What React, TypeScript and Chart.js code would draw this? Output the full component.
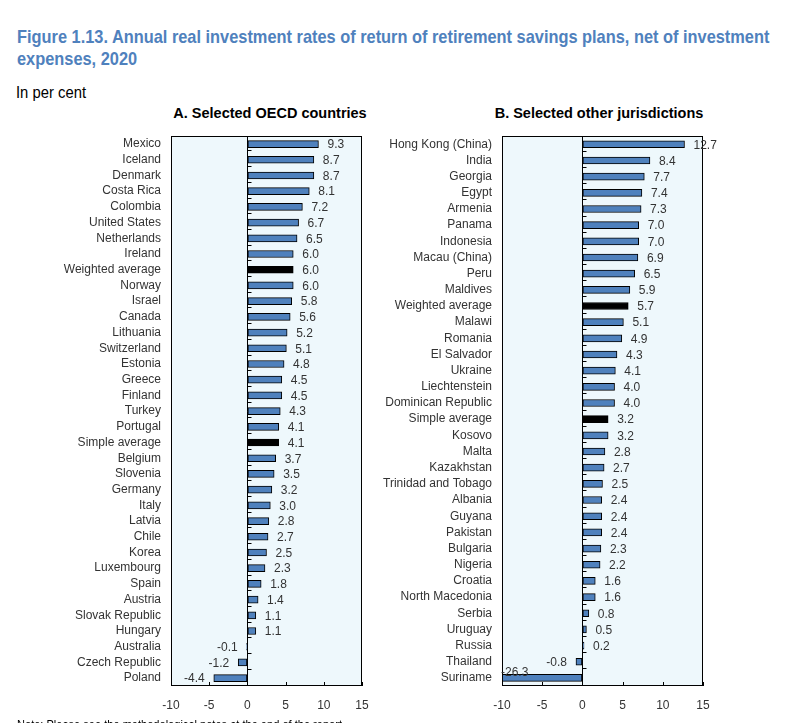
import React, { useEffect, useRef } from "react";
import { Chart, registerables } from "chart.js";

Chart.register(...registerables);

const categoriesA = [
  "Mexico", "Iceland", "Denmark", "Costa Rica", "Colombia", "United States", "Netherlands", "Ireland",
  "Weighted average", "Norway", "Israel", "Canada", "Lithuania", "Switzerland", "Estonia", "Greece",
  "Finland", "Turkey", "Portugal", "Simple average", "Belgium", "Slovenia", "Germany", "Italy", "Latvia",
  "Chile", "Korea", "Luxembourg", "Spain", "Austria", "Slovak Republic", "Hungary", "Australia",
  "Czech Republic", "Poland",
];
const valuesA = [
  9.3, 8.7, 8.7, 8.1, 7.2, 6.7, 6.5, 6.0, 6.0, 6.0, 5.8, 5.6, 5.2, 5.1, 4.8, 4.5, 4.5, 4.3, 4.1, 4.1,
  3.7, 3.5, 3.2, 3.0, 2.8, 2.7, 2.5, 2.3, 1.8, 1.4, 1.1, 1.1, -0.1, -1.2, -4.4,
];

const categoriesB = [
  "Hong Kong (China)", "India", "Georgia", "Egypt", "Armenia", "Panama", "Indonesia", "Macau (China)",
  "Peru", "Maldives", "Weighted average", "Malawi", "Romania", "El Salvador", "Ukraine", "Liechtenstein",
  "Dominican Republic", "Simple average", "Kosovo", "Malta", "Kazakhstan", "Trinidad and Tobago",
  "Albania", "Guyana", "Pakistan", "Bulgaria", "Nigeria", "Croatia", "North Macedonia", "Serbia",
  "Uruguay", "Russia", "Thailand", "Suriname",
];
const valuesB = [
  12.7, 8.4, 7.7, 7.4, 7.3, 7.0, 7.0, 6.9, 6.5, 5.9, 5.7, 5.1, 4.9, 4.3, 4.1, 4.0, 4.0, 3.2, 3.2, 2.8,
  2.7, 2.5, 2.4, 2.4, 2.4, 2.3, 2.2, 1.6, 1.6, 0.8, 0.5, 0.2, -0.8, -26.3,
];

const xMin = -10;
const xMax = 15;
const xStep = 5;

const TITLE_1 = "Figure 1.13. Annual real investment rates of return of retirement savings plans, net of investment";
const TITLE_2 = "expenses, 2020";
const SUBTITLE = "In per cent";
const PANEL_A = "A. Selected OECD countries";
const PANEL_B = "B. Selected other jurisdictions";
const NOTE = "Note: Please see the methodological notes at the end of the report.";

const BAR_BLUE = "#4F81BD";
const BAR_AVG = "#000000";
const PLOT_BG = "#EEF8FC";
const TEXT_COL = "#333333";
const FONT = "'Liberation Sans', Arial, Helvetica, sans-serif";

function measure(text: string, font: string): number {
  const c = document.createElement("canvas").getContext("2d") as CanvasRenderingContext2D;
  c.font = font;
  return c.measureText(text).width;
}

const framePlugin = {
  id: "frameAndLabels",
  beforeDraw(chart: any) {
    const { ctx, chartArea: a } = chart;
    ctx.save();
    ctx.fillStyle = PLOT_BG;
    ctx.fillRect(a.left, a.top, a.right - a.left, a.bottom - a.top);
    ctx.restore();
  },
  afterDatasetsDraw(chart: any) {
    const { ctx, chartArea: a, scales } = chart;
    const xs = scales.x;
    const ys = scales.y;
    ctx.save();
    ctx.strokeStyle = "#000";
    ctx.lineWidth = 1;
    ctx.strokeRect(Math.round(a.left) + 0.5, Math.round(a.top) + 0.5, Math.round(a.right - a.left) - 1, Math.round(a.bottom - a.top) - 1);
    ctx.beginPath();
    for (const t of xs.ticks) {
      const px = Math.round(xs.getPixelForValue(t.value)) + 0.5;
      ctx.moveTo(px, a.bottom);
      ctx.lineTo(px, a.bottom - 4);
    }
    const x0 = Math.round(xs.getPixelForValue(0)) + 0.5;
    const n = ys.ticks.length;
    for (let i = 0; i < n - 1; i++) {
      const py = Math.round((ys.getPixelForValue(i) + ys.getPixelForValue(i + 1)) / 2 - 1.5) + 0.5;
      ctx.moveTo(x0, py);
      ctx.lineTo(x0 + 4, py);
    }
    ctx.stroke();

    const meta = chart.getDatasetMeta(0);
    const data = chart.data.datasets[0].data as number[];
    ctx.font = `12px ${FONT}`;
    ctx.fillStyle = TEXT_COL;
    ctx.textBaseline = "middle";
    meta.data.forEach((el: any, i: number) => {
      const v = data[i];
      const txt = v.toFixed(1);
      if (v < xs.min) {
        ctx.textAlign = "left";
        ctx.fillText(txt, a.left - 1, el.y - 5);
      } else if (v < 0) {
        ctx.textAlign = "right";
        ctx.fillText(txt, el.x - 9, el.y + 1);
      } else {
        ctx.textAlign = "left";
        ctx.fillText(txt, el.x + 9, el.y + 1);
      }
    });
    ctx.restore();
  },
};

function Panel(props: {
  labels: string[];
  values: number[];
  left: number;
  top: number;
  width: number;
  height: number;
  yWidth: number;
  padRight: number;
}) {
  const ref = useRef<HTMLCanvasElement>(null);
  useEffect(() => {
    const colors = props.labels.map((l) => (l.indexOf("average") >= 0 ? BAR_AVG : BAR_BLUE));
    const chart = new Chart(ref.current as HTMLCanvasElement, {
      type: "bar",
      data: {
        labels: props.labels,
        datasets: [
          {
            data: props.values,
            backgroundColor: colors,
            borderColor: "#000",
            borderWidth: 1,
            borderSkipped: false,
            barThickness: 7,
          },
        ],
      },
      options: {
        indexAxis: "y",
        responsive: false,
        animation: false,
        layout: { padding: { top: 3, right: props.padRight, bottom: 0, left: 0 } },
        plugins: { legend: { display: false }, tooltip: { enabled: false } },
        scales: {
          x: {
            type: "linear",
            min: xMin,
            max: xMax,
            ticks: {
              stepSize: xStep,
              padding: 12,
              color: TEXT_COL,
              font: { family: FONT, size: 12 },
            },
            grid: {
              drawTicks: false,
              color: (c: any) => (c.tick && c.tick.value === 0 ? "#000" : "rgba(0,0,0,0)"),
            },
            border: { display: false },
            afterFit: (s: any) => {
              s.height = 37;
            },
          },
          y: {
            ticks: {
              padding: 10,
              color: TEXT_COL,
              font: { family: FONT, size: 12 },
              autoSkip: false,
            },
            grid: { display: false, drawTicks: false },
            border: { display: false },
            afterFit: (s: any) => {
              s.width = props.yWidth;
            },
          },
        },
      },
      plugins: [framePlugin],
    } as any);
    return () => chart.destroy();
  }, []);
  return (
    <div style={{ position: "absolute", left: props.left, top: props.top, width: props.width, height: props.height }}>
      <canvas ref={ref} width={props.width} height={props.height} style={{ width: props.width, height: props.height, display: "block" }} />
    </div>
  );
}

export default function App() {
  const titleFont = `bold 19px ${FONT}`;
  const titleScale = 753 / measure(TITLE_1, titleFont);
  const subFont = `17px ${FONT}`;
  const subScale = 70 / measure(SUBTITLE, subFont);
  const noteFont = `13px ${FONT}`;
  const lineStyle = (top: number, font: string, scale: number, color: string): React.CSSProperties => ({
    position: "absolute",
    left: 17,
    top,
    font,
    lineHeight: "22px",
    color,
    whiteSpace: "nowrap",
    transform: `scaleX(${scale})`,
    transformOrigin: "0 0",
  });
  return (
    <div style={{ position: "absolute", left: 0, top: 0, width: 807, height: 723, overflow: "hidden", background: "#fff" }}>
      <div style={lineStyle(26, titleFont, titleScale, "#4F81BD")}>{TITLE_1}</div>
      <div style={lineStyle(48, titleFont, titleScale, "#4F81BD")}>{TITLE_2}</div>
      <div style={{ ...lineStyle(82, subFont, subScale, "#000"), left: 16 }}>{SUBTITLE}</div>
      <div
        style={{
          position: "absolute",
          left: 170,
          width: 200,
          top: 105,
          textAlign: "center",
          fontFamily: FONT,
          fontWeight: "bold",
          fontSize: 14.5,
          lineHeight: "17px",
          color: "#000",
          whiteSpace: "nowrap",
        }}
      >
        {PANEL_A}
      </div>
      <div
        style={{
          position: "absolute",
          left: 489,
          width: 220,
          top: 105,
          textAlign: "center",
          fontFamily: FONT,
          fontWeight: "bold",
          fontSize: 14.5,
          lineHeight: "17px",
          color: "#000",
          whiteSpace: "nowrap",
        }}
      >
        {PANEL_B}
      </div>
      <Panel labels={categoriesA} values={valuesA} left={0} top={119} width={400} height={604} yWidth={171} padRight={38} />
      <Panel labels={categoriesB} values={valuesB} left={380} top={119} width={427} height={604} yWidth={122} padRight={104} />
      <div style={{ ...lineStyle(714, noteFont, 0.85, "#000") }}>{NOTE}</div>
    </div>
  );
}
